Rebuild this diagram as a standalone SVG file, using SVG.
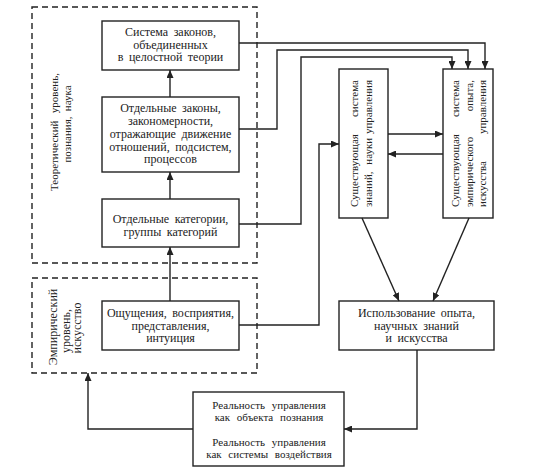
<svg xmlns="http://www.w3.org/2000/svg" width="540" height="476" viewBox="0 0 540 476">
<style>
  .bg{fill:#fff}
  .box{fill:#fff;stroke:#222;stroke-width:1.4}
  .dash{fill:none;stroke:#222;stroke-width:1.4;stroke-dasharray:6,4}
  .t{font-family:'Liberation Serif','DejaVu Serif',serif;font-size:12px;fill:#222;text-anchor:middle;word-spacing:2.5px}
  .r{font-size:11px}
  .s{text-anchor:start}
  .e{text-anchor:end}
  .c{fill:none;stroke:#222;stroke-width:1.4}
</style>
<defs>
  <marker id="ar" markerUnits="userSpaceOnUse" markerWidth="8" markerHeight="7" refX="8" refY="3.5" orient="auto">
    <path d="M0,0 L8,3.5 L0,7 z" fill="#222"/>
  </marker>
</defs>
<rect class="bg" x="0" y="0" width="540" height="476"/>

<g id="theory-level">
  <rect class="dash" x="32" y="7" width="225" height="256"/>
  <g transform="translate(58,0) rotate(-90)">
    <text class="t r s" x="-191" y="0">Теоретический</text>
    <text class="t r e" x="-73" y="0">уровень,</text>
  </g>
  <text class="t r" transform="translate(70.5,124) rotate(-90)">познания, наука</text>
</g>

<g id="empirical-level">
  <rect class="dash" x="32" y="278" width="225" height="95"/>
  <text class="t" transform="translate(57,327) rotate(-90)">Эмпирический</text>
  <text class="t" transform="translate(69.5,331) rotate(-90)">уровень,</text>
  <text class="t" transform="translate(81,328) rotate(-90)">искусство</text>
</g>

<g id="laws-system">
  <rect class="box" x="102" y="21" width="137" height="49"/>
  <text class="t" x="170.5" y="36">Система законов,</text>
  <text class="t" x="170.5" y="48.5">объединенных</text>
  <text class="t" x="170.5" y="61">в целостной теории</text>
</g>

<g id="separate-laws">
  <rect class="box" x="102" y="97" width="137" height="75"/>
  <text class="t" x="170.5" y="112">Отдельные законы,</text>
  <text class="t" x="170.5" y="124.5">закономерности,</text>
  <text class="t" x="170.5" y="137.5">отражающие движение</text>
  <text class="t" x="170.5" y="150.5">отношений, подсистем,</text>
  <text class="t" x="170.5" y="163">процессов</text>
</g>

<g id="categories">
  <rect class="box" x="102" y="199" width="137" height="48"/>
  <text class="t" x="170.5" y="223">Отдельные категории,</text>
  <text class="t" x="170.5" y="235.5">группы категорий</text>
</g>

<g id="sensations">
  <rect class="box" x="102" y="301" width="137" height="49"/>
  <text class="t" x="170.5" y="317">Ощущения, восприятия,</text>
  <text class="t" x="170.5" y="329.5">представления,</text>
  <text class="t" x="170.5" y="342">интуиция</text>
</g>

<g id="science-system">
  <rect class="box" x="339" y="69" width="49" height="149"/>
  <g transform="translate(358,143.5) rotate(-90)">
    <text class="t r s" x="-63.5" y="0">Существующая</text>
    <text class="t r e" x="63.5" y="0">система</text>
  </g>
  <g transform="translate(371.5,143.5) rotate(-90)">
    <text class="t r s" x="-63.5" y="0">знаний,</text>
    <text class="t r e" x="63.5" y="0" style="word-spacing:1px">науки управления</text>
  </g>
</g>

<g id="empirical-system">
  <rect class="box" x="443" y="69" width="50" height="149"/>
  <g transform="translate(459,143.5) rotate(-90)">
    <text class="t r s" x="-63.5" y="0">Существующая</text>
    <text class="t r e" x="63.5" y="0">система</text>
  </g>
  <g transform="translate(472.5,143.5) rotate(-90)">
    <text class="t r s" x="-63.5" y="0">эмпирического</text>
    <text class="t r e" x="63.5" y="0">опыта,</text>
  </g>
  <g transform="translate(486,143.5) rotate(-90)">
    <text class="t r s" x="-63.5" y="0">искусства</text>
    <text class="t r e" x="63.5" y="0">управления</text>
  </g>
</g>

<g id="usage">
  <rect class="box" x="339" y="301" width="155" height="49"/>
  <text class="t" x="416.5" y="317">Использование опыта,</text>
  <text class="t" x="416.5" y="329.5">научных знаний</text>
  <text class="t" x="416.5" y="342">и искусства</text>
</g>

<g id="reality">
  <rect class="box" x="193" y="392" width="151" height="74"/>
  <text class="t r" x="269" y="408.5" style="word-spacing:4px">Реальность управления</text>
  <text class="t r" x="269" y="420.5" style="word-spacing:4px">как объекта познания</text>
  <text class="t r" x="269" y="445.5" style="word-spacing:4px">Реальность управления</text>
  <text class="t r" x="269" y="457.5" style="word-spacing:4px">как системы воздействия</text>
</g>

<g id="connectors">
  <path class="c" d="M170,97 V70" marker-end="url(#ar)"/>
  <path class="c" d="M170,199 V172" marker-end="url(#ar)"/>
  <path class="c" d="M170,301 V247" marker-end="url(#ar)"/>
  <path class="c" d="M239,43 H485 V69" marker-end="url(#ar)"/>
  <path class="c" d="M239,129 H277 V50 H468 V69" marker-end="url(#ar)"/>
  <path class="c" d="M239,224 H301 V57 H452 V69" marker-end="url(#ar)"/>
  <path class="c" d="M239,325 H319 V144 H339" marker-end="url(#ar)"/>
  <path class="c" d="M388,134 H443" marker-end="url(#ar)"/>
  <path class="c" d="M443,154 H388" marker-end="url(#ar)"/>
  <path class="c" d="M362,218 L399,301" marker-end="url(#ar)"/>
  <path class="c" d="M469,218 L433,301" marker-end="url(#ar)"/>
  <path class="c" d="M417,350 V429 H344" marker-end="url(#ar)"/>
  <path class="c" d="M193,429 H88 V373" marker-end="url(#ar)"/>
</g>
</svg>
